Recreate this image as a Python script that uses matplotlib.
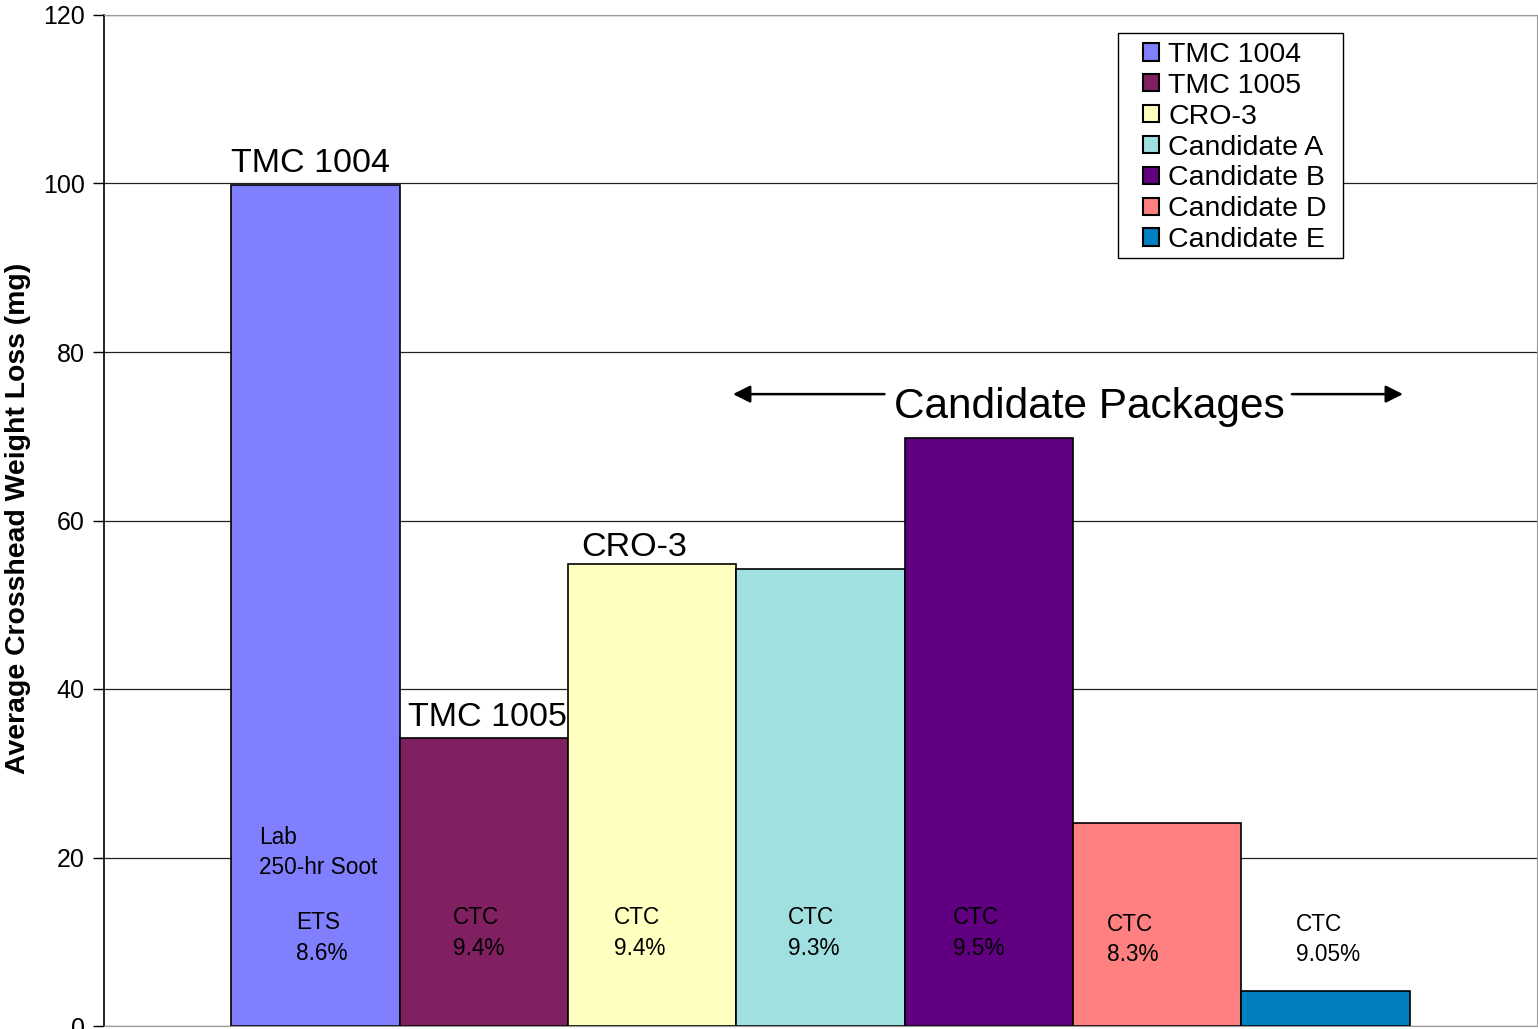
import matplotlib.pyplot as plt
from matplotlib.patches import Patch, Rectangle

# Chart data
series = ["TMC 1004", "TMC 1005", "CRO-3", "Candidate A",
          "Candidate B", "Candidate D", "Candidate E"]
weight_loss = [99.8, 34.2, 54.8, 54.2, 69.8, 24.1, 4.1]
colors = ["#8080FF", "#802060", "#FFFFC0", "#A0E0E0",
          "#600080", "#FF8080", "#0080C0"]
inner_labels = ["ETS\n8.6%", "CTC\n9.4%", "CTC\n9.4%", "CTC\n9.3%",
                "CTC\n9.5%", "CTC\n8.3%", "CTC\n9.05%"]
yticks = [0, 20, 40, 60, 80, 100, 120]

W, H = 1538, 1029


def main():
    plt.rcParams['font.family'] = ['Liberation Sans', 'DejaVu Sans']

    fig = plt.figure(figsize=(W / 100, H / 100), dpi=100)
    ax = fig.add_axes([104 / W, 3 / H, 1433 / W, 1011 / H])

    x = list(range(len(series)))
    ax.bar(x, weight_loss, width=1.0, color=colors, edgecolor="black",
           linewidth=1.2, zorder=2)

    ax.set_xlim(-0.5 - 0.756, len(series) - 0.5 + 0.756)
    ax.set_ylim(0, 120)
    ax.set_yticks(yticks)
    ax.set_xticks([])
    ax.tick_params(axis="y", direction="out", length=8, width=1,
                   labelsize=18, pad=6)
    ax.yaxis.grid(True, color="#222222", linewidth=0.9, zorder=0)
    ax.set_axisbelow(True)
    for side in ["top", "right", "bottom"]:
        ax.spines[side].set_color("#999999")
    ax.spines["left"].set_color("black")
    ax.spines["left"].set_linewidth(1.2)

    fig.text(18 / W, 0.4966, "Average Crosshead Weight Loss (mg)",
             rotation=90, ha="center", va="center", fontsize=20.4,
             fontweight="bold")

    # labels above the reference bars
    ax.text(x[0] - 0.03, weight_loss[0] + 2.55, "TMC 1004", fontsize=24.5,
            ha="center", va="center")
    ax.text(x[1] + 0.02, weight_loss[1] + 2.45, "TMC 1005", fontsize=24.5,
            ha="center", va="center")
    ax.text(x[2] - 0.107, weight_loss[2] + 1.95, "CRO-3", fontsize=24.5,
            ha="center", va="center")

    # text inside bars (left aligned)
    ax.text(x[0] - 0.5 + 28 / 168.4, 20.55, "Lab\n250-hr Soot",
            fontsize=16.3, ha="left", va="center", linespacing=1.4)
    left_pad = [65, 53, 46, 52, 48, 34, 55]
    ys = [10.45, 11.05, 11.05, 11.05, 11.05, 10.25, 10.25]
    for i, lab in enumerate(inner_labels):
        ax.text(x[i] - 0.5 + left_pad[i] / 168.4, ys[i], lab, fontsize=16.3,
                ha="left", va="center", linespacing=1.4)

    # Candidate packages arrow annotation
    arrow = dict(arrowstyle="-|>", color="black", lw=1.8,
                 mutation_scale=26, shrinkA=0, shrinkB=0)
    ax.annotate("", xy=(2.48, 75.0), xytext=(3.38, 75.0), arrowprops=arrow)
    ax.annotate("", xy=(6.46, 75.0), xytext=(5.80, 75.0), arrowprops=arrow)
    ax.text(4.595, 73.45, "Candidate Packages", fontsize=30.5,
            ha="center", va="center")

    # legend with its own frame
    fig.patches.append(Rectangle((1118 / W, 1 - 258 / H), 225 / W, 225 / H,
                                 transform=fig.transFigure, facecolor="white",
                                 edgecolor="black", linewidth=1.0, zorder=5))
    handles = [Patch(facecolor=c, edgecolor="black", linewidth=1.5)
               for c in colors]
    leg = fig.legend(handles, series, loc="upper left",
                     bbox_to_anchor=(1143 / W, 1 - 42 / H),
                     fontsize=20.5, frameon=False,
                     handlelength=0.55, handleheight=0.55,
                     handletextpad=0.33, labelspacing=0.17,
                     borderpad=0, borderaxespad=0)
    leg.set_zorder(6)

    fig.savefig("out.png", dpi=100)


if __name__ == "__main__":
    main()
